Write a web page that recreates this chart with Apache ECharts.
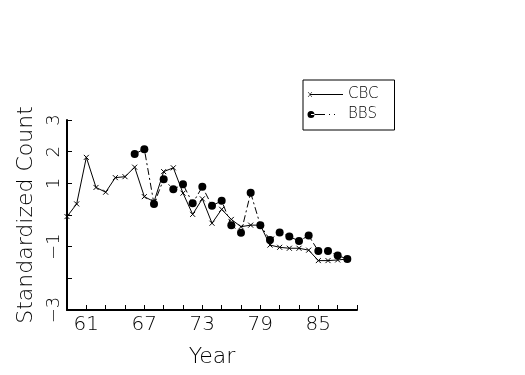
<!DOCTYPE html>
<html>
<head>
<meta charset="utf-8">
<script src="https://cdn.jsdelivr.net/npm/echarts@6/dist/echarts.min.js"></script>
<style>
html,body{margin:0;padding:0;background:#fff;}
#chart{width:525px;height:375px;}
</style>
</head>
<body>
<div id="chart"></div>
<script>
// ---- data ----
var cbcYears = [59,60,61,62,63,64,65,66,67,68,69,70,71,72,73,74,75,76,77,78,79,80,81,82,83,84,85,86,87,88];
var cbcValues = [-0.05,0.35,1.82,0.87,0.72,1.18,1.21,1.51,0.58,0.42,1.37,1.49,0.69,0.02,0.51,-0.26,0.18,-0.14,-0.37,-0.32,-0.32,-0.95,-1.02,-1.05,-1.05,-1.11,-1.44,-1.44,-1.42,-1.39];
var bbsYears = [66,67,68,69,70,71,72,73,74,75,76,77,78,79,80,81,82,83,84,85,86,87,88];
var bbsValues = [1.93,2.08,0.35,1.13,0.81,0.97,0.37,0.89,0.29,0.45,-0.32,-0.56,0.70,-0.32,-0.79,-0.55,-0.68,-0.82,-0.65,-1.14,-1.14,-1.28,-1.39];
var xTickLabels = [61,67,73,79,85];
var yTickLabels = [3,2,1,-1,-3];
var seriesNames = ['CBC','BBS'];

function pairs(xs, ys){ return xs.map(function(x,i){ return [x, ys[i]]; }); }

var FONT = 'DejaVu Sans';
var xMarker = 'path://M0,0L10,10M10,0L0,10';
var cbcIcon = 'path://M0,0L0,0M36,10L36,10M3,4.6L36,4.6L36,5.4L3,5.4Z' +
  'M0.8,2.5L1.4,2.5L5.2,7.5L4.6,7.5Z M4.6,2.5L5.2,2.5L1.4,7.5L0.8,7.5Z';
var bbsIcon = 'path://M0,0L0,0M36,10L36,10M0.5,5A3.5,3.5 0 1,0 7.5,5A3.5,3.5 0 1,0 0.5,5Z' +
  'M4,4.6L18,4.6L18,5.4L4,5.4Z M22,4.6L23,4.6L23,5.4L22,5.4Z M27,4.6L28,4.6L28,5.4L27,5.4Z';

var chart = echarts.init(document.getElementById('chart'), null, {renderer:'canvas'});
chart.setOption({
  animation: false,
  backgroundColor: '#fff',
  grid: {left: 67, right: 168, top: 120, bottom: 65, containLabel: false},
  legend: {
    orient: 'vertical',
    left: 303, top: 80,
    padding: [7, 16, 8, 4],
    borderColor: '#000', borderWidth: 1,
    itemWidth: 36, itemHeight: 10, itemGap: 5,
    itemStyle: {borderWidth: 0},
    lineStyle: {width: 0},
    textStyle: {fontFamily: FONT, fontSize: 15, color: '#000', fontWeight: 200},
    data: [{name: seriesNames[0], icon: cbcIcon}, {name: seriesNames[1], icon: bbsIcon}]
  },
  xAxis: {
    type: 'value', min: 59, max: 89, interval: 2,
    name: 'Year', nameLocation: 'middle', nameGap: 36,
    nameTextStyle: {fontFamily: FONT, fontSize: 22, color: '#000', fontWeight: 200},
    axisLine: {show: true, onZero: false, lineStyle: {color: '#000', width: 2}},
    axisTick: {show: true, inside: true, length: 5, lineStyle: {color: '#000', width: 1}},
    axisLabel: {
      interval: 0, margin: 5, hideOverlap: false, showMinLabel: true, showMaxLabel: true,
      fontFamily: FONT, fontSize: 20, color: '#000', fontWeight: 200,
      formatter: function(v){ return xTickLabels.indexOf(Math.round(v)) >= 0 ? String(Math.round(v)) : ''; }
    },
    splitLine: {show: false}
  },
  yAxis: {
    type: 'value', min: -3, max: 3, interval: 1,
    name: 'Standardized Count', nameLocation: 'middle', nameGap: 28,
    nameTextStyle: {fontFamily: FONT, fontSize: 22, color: '#000', fontWeight: 200},
    axisLine: {show: true, onZero: false, lineStyle: {color: '#000', width: 2}},
    axisTick: {show: true, inside: true, length: 5, lineStyle: {color: '#000', width: 1}},
    axisLabel: {
      rotate: 90, margin: 4, hideOverlap: false, showMinLabel: true, showMaxLabel: true,
      fontFamily: FONT, fontSize: 18, color: '#000', fontWeight: 200,
      formatter: function(v){
        var r = Math.round(v);
        if (yTickLabels.indexOf(r) < 0) return '';
        return r < 0 ? '\u2212' + Math.abs(r) : String(r);
      }
    },
    splitLine: {show: false}
  },
  series: [
    {
      name: seriesNames[0], type: 'line', data: pairs(cbcYears, cbcValues),
      symbol: xMarker, symbolSize: 5, showSymbol: true,
      itemStyle: {color: '#000', borderColor: '#000', borderWidth: 1},
      lineStyle: {color: '#000', width: 1}
    },
    {
      name: seriesNames[1], type: 'line', data: pairs(bbsYears, bbsValues),
      symbol: 'circle', symbolSize: 8, showSymbol: true,
      itemStyle: {color: '#000', borderWidth: 0},
      lineStyle: {color: '#000', width: 1, type: [7, 3, 2, 3]},
      z: 3
    }
  ]
});
</script>
</body>
</html>
